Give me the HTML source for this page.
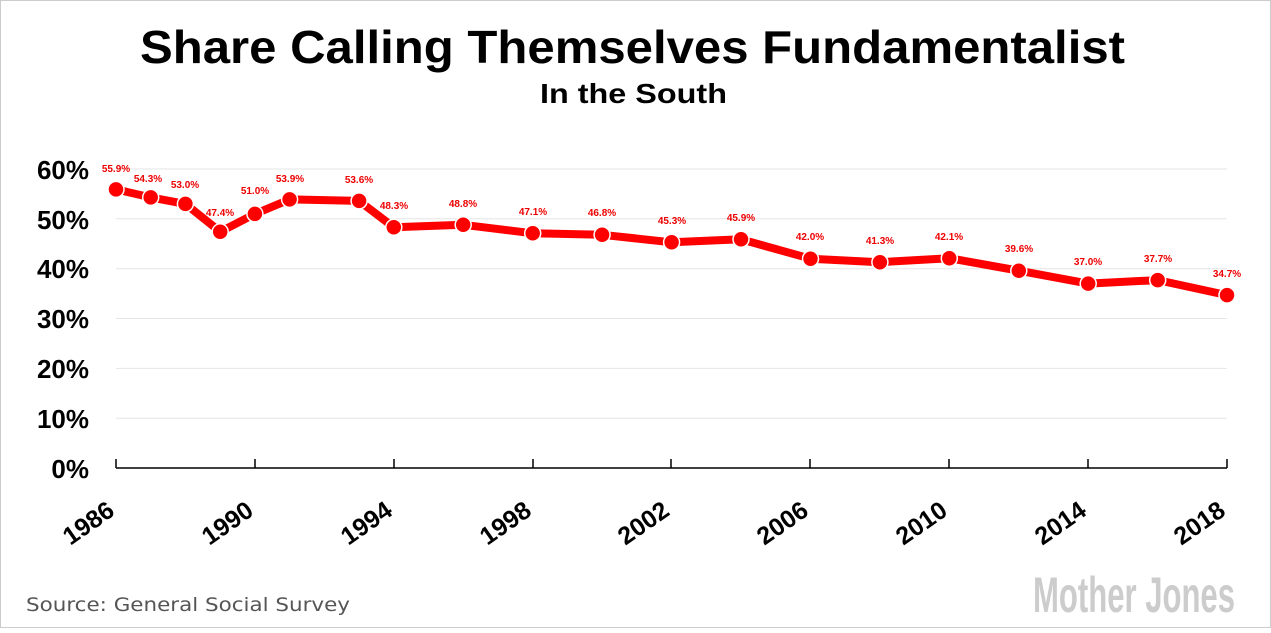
<!DOCTYPE html>
<html><head><style>body{margin:0;background:#fff}</style></head><body>
<svg width="1271" height="628" xmlns="http://www.w3.org/2000/svg" font-family="Liberation Sans, sans-serif">
<rect x="0.5" y="0.5" width="1270" height="627" fill="#fff" stroke="#ccc"/>
<text x="140" y="63" font-size="46" font-weight="bold" textLength="985" lengthAdjust="spacingAndGlyphs">Share Calling Themselves Fundamentalist</text>
<text x="540" y="103" font-size="28" font-weight="bold" textLength="187" lengthAdjust="spacingAndGlyphs">In the South</text>
<g stroke="#e6e6e6" stroke-width="1">
<line x1="116" x2="1227" y1="418.2" y2="418.2"/><line x1="116" x2="1227" y1="368.4" y2="368.4"/>
<line x1="116" x2="1227" y1="318.5" y2="318.5"/><line x1="116" x2="1227" y1="268.7" y2="268.7"/>
<line x1="116" x2="1227" y1="218.8" y2="218.8"/><line x1="116" x2="1227" y1="169" y2="169"/>
</g>
<g font-size="26" font-weight="bold" text-anchor="end">
<text x="89" y="478">0%</text><text x="89" y="428">10%</text><text x="89" y="378">20%</text>
<text x="89" y="328">30%</text><text x="89" y="278">40%</text><text x="89" y="229">50%</text><text x="89" y="179">60%</text>
</g>
<g stroke="#000" stroke-width="1.5" fill="none">
<line x1="116" x2="1227" y1="468" y2="468"/>
<path d="M116 459V468M255 459V468M394 459V468M533 459V468M671 459V468M810 459V468M949 459V468M1088 459V468M1227 459V468"/>
</g>
<g font-size="25" font-weight="bold" text-anchor="end">
<text transform="translate(116,514) rotate(-35)">1986</text>
<text transform="translate(255,514) rotate(-35)">1990</text>
<text transform="translate(394,514) rotate(-35)">1994</text>
<text transform="translate(533,514) rotate(-35)">1998</text>
<text transform="translate(671,514) rotate(-35)">2002</text>
<text transform="translate(810,514) rotate(-35)">2006</text>
<text transform="translate(949,514) rotate(-35)">2010</text>
<text transform="translate(1088,514) rotate(-35)">2014</text>
<text transform="translate(1227,514) rotate(-35)">2018</text>
</g>
<polyline fill="none" stroke="#f00" stroke-width="8" stroke-linejoin="round" points="116,189.4 150.7,197.4 185.4,203.9 220.2,231.8 254.9,213.9 289.6,199.4 359.1,200.9 393.8,227.3 463.2,224.8 532.7,233.3 602.1,234.8 671.6,242.3 741,239.3 810.5,258.7 879.9,262.2 949.3,258.2 1018.8,270.7 1088.2,283.6 1157.7,280.1 1227,295.1"/>
<g fill="#f00" stroke="#fff" stroke-width="1.5">
<circle cx="116" cy="189.4" r="8"/><circle cx="150.7" cy="197.4" r="8"/><circle cx="185.4" cy="203.9" r="8"/>
<circle cx="220.2" cy="231.8" r="8"/><circle cx="254.9" cy="213.9" r="8"/><circle cx="289.6" cy="199.4" r="8"/>
<circle cx="359.1" cy="200.9" r="8"/><circle cx="393.8" cy="227.3" r="8"/><circle cx="463.2" cy="224.8" r="8"/>
<circle cx="532.7" cy="233.3" r="8"/><circle cx="602.1" cy="234.8" r="8"/><circle cx="671.6" cy="242.3" r="8"/>
<circle cx="741" cy="239.3" r="8"/><circle cx="810.5" cy="258.7" r="8"/><circle cx="879.9" cy="262.2" r="8"/>
<circle cx="949.3" cy="258.2" r="8"/><circle cx="1018.8" cy="270.7" r="8"/><circle cx="1088.2" cy="283.6" r="8"/>
<circle cx="1157.7" cy="280.1" r="8"/><circle cx="1227" cy="295.1" r="8"/>
</g>
<g fill="#e00" font-size="10" font-weight="bold" text-anchor="middle">
<text x="116" y="172">55.9%</text><text x="148" y="182">54.3%</text><text x="185" y="188">53.0%</text>
<text x="220" y="216">47.4%</text><text x="255" y="194">51.0%</text><text x="290" y="182">53.9%</text>
<text x="359" y="183">53.6%</text><text x="394" y="209">48.3%</text><text x="463" y="207">48.8%</text>
<text x="533" y="215">47.1%</text><text x="602" y="216">46.8%</text><text x="672" y="224">45.3%</text>
<text x="741" y="221">45.9%</text><text x="810" y="240">42.0%</text><text x="880" y="244">41.3%</text>
<text x="949" y="240">42.1%</text><text x="1019" y="252">39.6%</text><text x="1088" y="265">37.0%</text>
<text x="1158" y="262">37.7%</text><text x="1227" y="277">34.7%</text>
</g>
<text x="26" y="611" font-family="DejaVu Sans, sans-serif" font-size="19" fill="#555" textLength="324" lengthAdjust="spacingAndGlyphs">Source: General Social Survey</text>
<text x="1033" y="612" font-size="50" font-weight="bold" fill="#ccc" textLength="202" lengthAdjust="spacingAndGlyphs">Mother Jones</text>
</svg>
</body></html>
